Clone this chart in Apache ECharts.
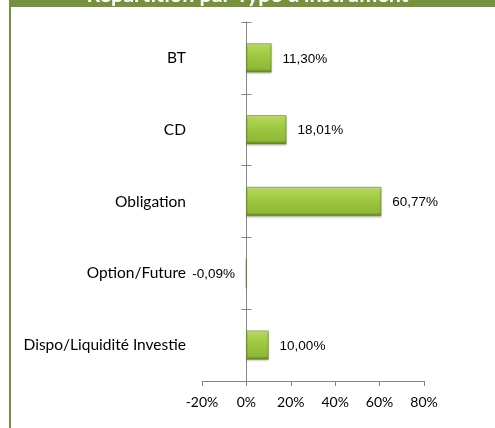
<!DOCTYPE html>
<html>
<head>
<meta charset="utf-8">
<script src="https://cdn.jsdelivr.net/npm/echarts@6/dist/echarts.min.js"></script>
<style>html,body{margin:0;padding:0;background:#fff;}#chart{width:495px;height:428px;}</style>
</head>
<body>
<div id="chart"></div>
<script>
// Data
const titleText = "Répartition par Type d'instrument";
const categories = ['BT', 'CD', 'Obligation', 'Option/Future', 'Dispo/Liquidité Investie'];
const values = [11.30, 18.01, 60.77, -0.09, 10.00];
const xMin = -20, xMax = 80, xInterval = 20;

const chart = echarts.init(document.getElementById('chart'), null, {renderer: 'canvas'});
const green = '#76923C';
const axisGrey = '#868686';
const barGrad = new echarts.graphic.LinearGradient(0, 0, 0, 1, [
  {offset: 0, color: '#d4ea9c'},
  {offset: 0.12, color: '#b0d453'},
  {offset: 0.5, color: '#9cc63f'},
  {offset: 0.88, color: '#8fb836'},
  {offset: 1, color: '#5e7d1e'}
]);
const fmt = v => v.toFixed(2).replace('.', ',') + '%';

chart.setOption({
  animation: false,
  backgroundColor: '#fff',
  title: {
    text: titleText,
    left: 'center',
    top: -16,
    padding: 0,
    textStyle: {color: '#fff', fontFamily: 'Lato', fontWeight: 'bold', fontSize: 21.5, lineHeight: 22}
  },
  graphic: [
    {type: 'rect', left: 9, top: 0, z: -1, shape: {width: 486, height: 7}, style: {fill: green}},
    {type: 'rect', left: 9, top: 0, z: -1, shape: {width: 2, height: 428}, style: {fill: green}}
  ],
  grid: {left: 202, right: 71, top: 22, bottom: 47, containLabel: false, outerBoundsMode: 'none'},
  xAxis: [{
    type: 'value', min: xMin, max: xMax, interval: xInterval,
    axisLine: {show: true, onZero: false, lineStyle: {color: axisGrey, width: 1}},
    axisTick: {show: true, length: 5, lineStyle: {color: axisGrey}},
    splitLine: {show: false},
    axisLabel: {formatter: v => v + '%', color: '#000', fontFamily: 'Lato', fontSize: 14, margin: 14}
  }, {
    type: 'value', min: xMin, max: xMax, interval: xInterval, position: 'bottom',
    axisLine: {show: false, onZero: false}, axisTick: {show: false},
    axisLabel: {show: false}, splitLine: {show: false}
  }],
  yAxis: [{
    type: 'category', data: categories, inverse: true,
    axisLine: {show: true, onZero: true, onZeroAxisIndex: 0, lineStyle: {color: axisGrey, width: 1}},
    axisTick: {show: true, length: 5, lineStyle: {color: axisGrey}},
    axisLabel: {color: '#000', fontFamily: 'Lato', fontSize: 15.5, margin: 16}
  }, {
    type: 'category', data: categories, inverse: true, position: 'left',
    axisLine: {show: false, onZero: true, onZeroAxisIndex: 1},
    axisTick: {show: true, inside: true, length: 5, lineStyle: {color: axisGrey}},
    axisLabel: {show: false}
  }],
  series: [{
    type: 'bar',
    barWidth: 29,
    data: values.map(v => ({
      value: v,
      label: {position: v < 0 ? 'left' : 'right'}
    })),
    itemStyle: {color: barGrad, borderColor: '#6a8a25', borderWidth: 0.6,
      shadowColor: 'rgba(0,0,0,0.25)', shadowBlur: 2, shadowOffsetY: 1},
    label: {
      show: true, distance: 11, offset: [0, 1],
      formatter: p => fmt(p.value),
      color: '#000', fontFamily: 'Liberation Sans', fontSize: 13.5
    },
    markLine: {
      silent: true, symbol: 'none', z: 1,
      label: {show: false},
      lineStyle: {color: axisGrey, width: 1, type: 'solid'},
      data: [{xAxis: 0}]
    }
  }]
});
</script>
</body>
</html>
